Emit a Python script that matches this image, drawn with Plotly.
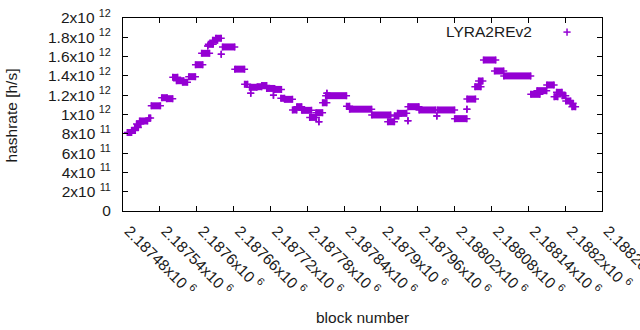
import plotly.graph_objects as go

# Runs of blocks with a constant hashrate (block start, block end, hashrate in 1e12 h/s)
run_start = [2187487, 2187494, 2187499, 2187502, 2187507, 2187522, 2187526, 2187543, 2187551,
             2187561, 2187567, 2187577, 2187587, 2187598, 2187608, 2187618, 2187619, 2187626,
             2187631, 2187640, 2187642, 2187662, 2187678, 2187686, 2187688, 2187699, 2187706,
             2187714, 2187725, 2187727, 2187737, 2187743, 2187756, 2187763, 2187771, 2187784,
             2187799, 2187794, 2187805, 2187812, 2187810, 2187844, 2187849, 2187885, 2187911,
             2187922, 2187927, 2187944, 2187944, 2187962, 2187991, 2187992, 2188020, 2188040,
             2188040, 2188053, 2188059, 2188067, 2188085, 2188100, 2188144, 2188154, 2188170,
             2188182, 2188186, 2188195, 2188201, 2188208, 2188211]
run_end = [2187494, 2187500, 2187505, 2187509, 2187520, 2187525, 2187541, 2187552, 2187561,
           2187569, 2187579, 2187585, 2187598, 2187610, 2187621, 2187618, 2187627, 2187634,
           2187640, 2187640, 2187662, 2187678, 2187683, 2187698, 2187688, 2187706, 2187714,
           2187727, 2187725, 2187738, 2187743, 2187756, 2187763, 2187771, 2187787, 2187795,
           2187799, 2187805, 2187812, 2187812, 2187844, 2187849, 2187885, 2187916, 2187922,
           2187929, 2187942, 2187944, 2187962, 2187989, 2187991, 2188020, 2188040, 2188040,
           2188054, 2188063, 2188066, 2188087, 2188100, 2188144, 2188159, 2188170, 2188182,
           2188188, 2188195, 2188201, 2188209, 2188213, 2188217]
run_value = [0.813, 0.834, 0.865, 0.902, 0.933, 0.964, 1.09, 1.174, 1.164,
             1.385, 1.35, 1.334, 1.392, 1.516, 1.634, 1.71, 1.727, 1.769,
             1.79, 1.624, 1.70, 1.47, 1.313, 1.282, 1.22, 1.288, 1.30,
             1.27, 1.20, 1.26, 1.168, 1.157, 1.047, 1.081, 1.043, 0.97,
             0.925, 1.019, 1.122, 1.22, 1.195, 1.085, 1.055, 0.995, 0.925,
             0.984, 1.012, 0.936, 1.081, 1.047, 0.984, 1.047, 0.957, 1.054,
             1.16, 1.288, 1.347, 1.565, 1.451, 1.40, 1.209, 1.247, 1.306,
             1.185, 1.23, 1.195, 1.14, 1.116, 1.081]

x_tick_vals = [2187480, 2187540, 2187600, 2187660, 2187720, 2187780, 2187840,
               2187900, 2187960, 2188020, 2188080, 2188140, 2188200, 2188260]
x_tick_text = ["2.18748", "2.18754", "2.1876", "2.18766", "2.18772", "2.18778", "2.18784",
               "2.1879", "2.18796", "2.18802", "2.18808", "2.18814", "2.1882", "2.18826"]
y_tick_vals = [0, 2e11, 4e11, 6e11, 8e11, 1e12, 1.2e12, 1.4e12, 1.6e12, 1.8e12, 2e12]
y_tick_mant = ["0", "2", "4", "6", "8", "1", "1.2", "1.4", "1.6", "1.8", "2"]
y_tick_exp = ["", "11", "11", "11", "11", "12", "12", "12", "12", "12", "12"]

COLOR = "#9400d3"
FONT = "Liberation Sans"

xs, ys = [], []
for s, e, v in zip(run_start, run_end, run_value):
    xs += [s, e, None]
    ys += [v * 1e12, v * 1e12, None]

fig = go.Figure()
fig.add_trace(go.Scatter(
    x=xs, y=ys, mode="lines+markers", connectgaps=False, showlegend=False,
    line=dict(color=COLOR, width=7),
    marker=dict(symbol="cross-thin", size=5, color=COLOR,
                line=dict(color=COLOR, width=1.5)),
))

y_text = [m if not e else f"{m}x10 <sup>{e}</sup>" for m, e in zip(y_tick_mant, y_tick_exp)]
x_text = [f"{t}x10 <sup>6</sup>" for t in x_tick_text]

fig.update_layout(
    width=640, height=330,
    margin=dict(l=123, r=38, t=18, b=119),
    paper_bgcolor="white", plot_bgcolor="white",
    font=dict(family=FONT, size=15.5, color="#1a1a1a"),
    xaxis=dict(range=[2187480, 2188260], tickmode="array", tickvals=x_tick_vals,
               ticktext=x_text, tickangle=45, ticks="inside", ticklen=5,
               ticklabelstandoff=4, ticklabelshift=6,
               showline=True, linecolor="black", linewidth=1, mirror="ticks",
               showgrid=False, zeroline=False, tickcolor="black",
               automargin=False, ticklabeloverflow="allow"),
    yaxis=dict(range=[0, 2e12], tickmode="array", tickvals=y_tick_vals,
               ticktext=y_text, ticks="inside", ticklen=5, ticklabelstandoff=8,
               showline=True, linecolor="black", linewidth=1, mirror="ticks",
               showgrid=False, zeroline=False, tickcolor="black",
               automargin=False, ticklabeloverflow="allow"),
    annotations=[
        dict(text="block number", xref="paper", yref="paper", x=0.5005, y=-0.55,
             xanchor="center", yanchor="middle", showarrow=False),
        dict(text="hashrate [h/s]", xref="paper", yref="paper", x=-0.2226, y=0.497,
             xanchor="center", yanchor="middle", textangle=-90, showarrow=False,
             xshift=-5),
        dict(text="LYRA2REv2", xref="paper", yref="paper", x=0.858, y=0.932,
             xanchor="right", yanchor="middle", showarrow=False),
    ],
    shapes=[
        dict(type="line", xref="paper", yref="paper", x0=0.927 - 0.0075, x1=0.927 + 0.0075,
             y0=0.927, y1=0.927, line=dict(color=COLOR, width=1.5)),
        dict(type="line", xref="paper", yref="paper", x0=0.927, x1=0.927,
             y0=0.927 - 0.0185, y1=0.927 + 0.0185, line=dict(color=COLOR, width=1.5)),
    ],
)

fig.write_html("out.html", config={"displayModeBar": False},
               post_script="document.body.style.margin='0px';document.body.style.overflow='hidden';")
